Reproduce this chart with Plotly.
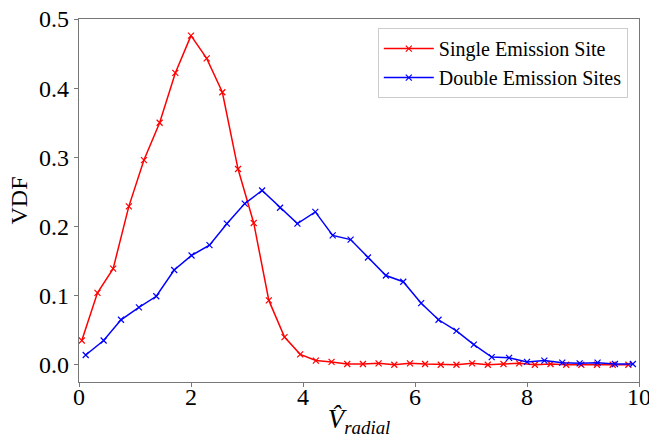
import plotly.graph_objects as go

# ---- data ----
single_x = [0.05, 0.33, 0.61, 0.89, 1.16, 1.44, 1.72, 2.00, 2.28, 2.56,
            2.84, 3.12, 3.39, 3.67, 3.95, 4.23, 4.51, 4.79, 5.07, 5.35,
            5.63, 5.91, 6.18, 6.46, 6.74, 7.02, 7.30, 7.58, 7.86, 8.14,
            8.42, 8.70, 8.97, 9.25, 9.53, 9.81]
single_y = [0.035, 0.104, 0.139, 0.229, 0.296, 0.350, 0.422, 0.476, 0.443, 0.394,
            0.283, 0.205, 0.093, 0.040, 0.015, 0.006, 0.004, 0.001, 0.001, 0.002,
            0.000, 0.002, 0.001, 0.000, 0.000, 0.002, 0.000, 0.001, 0.002, 0.000,
            0.001, 0.000, 0.000, 0.000, 0.000, 0.000]

double_x = [0.12, 0.44, 0.75, 1.07, 1.38, 1.70, 2.01, 2.33, 2.64, 2.96,
            3.27, 3.59, 3.90, 4.22, 4.53, 4.85, 5.16, 5.48, 5.79, 6.11,
            6.42, 6.74, 7.05, 7.37, 7.68, 8.00, 8.31, 8.63, 8.94, 9.26,
            9.57, 9.89]
double_y = [0.014, 0.035, 0.065, 0.083, 0.099, 0.137, 0.158, 0.173, 0.204, 0.233,
            0.252, 0.227, 0.204, 0.221, 0.187, 0.181, 0.155, 0.129, 0.120, 0.089,
            0.065, 0.049, 0.029, 0.011, 0.010, 0.004, 0.006, 0.003, 0.002, 0.003,
            0.001, 0.001]

x_ticks = [0, 2, 4, 6, 8, 10]
y_ticks = [0.0, 0.1, 0.2, 0.3, 0.4, 0.5]

FONT = "Liberation Serif"

fig = go.Figure()
fig.add_trace(go.Scatter(
    x=single_x, y=single_y, mode="lines+markers", name="Single Emission Site",
    line=dict(color="#ff0000", width=1.5),
    marker=dict(symbol="x-thin", size=6, line=dict(color="#ff0000", width=1.2)),
))
fig.add_trace(go.Scatter(
    x=double_x, y=double_y, mode="lines+markers", name="Double Emission Sites",
    line=dict(color="#0000ff", width=1.5),
    marker=dict(symbol="x-thin", size=6, line=dict(color="#0000ff", width=1.2)),
))

axis_common = dict(
    showgrid=False, zeroline=False, showline=True, mirror=True, automargin=False,
    linecolor="#777777", linewidth=1.2, ticks="outside", ticklen=4,
    tickcolor="#777777", tickfont=dict(family=FONT, size=24, color="black"),
    ticklabeloverflow="allow",
)

fig.update_layout(
    width=649, height=441,
    margin=dict(l=79, r=10, t=19, b=59),
    paper_bgcolor="white", plot_bgcolor="white",
    font=dict(family=FONT, color="black"),
    xaxis=dict(range=[0, 10], tickvals=x_ticks, ticktext=[str(v) for v in x_ticks],
               ticklabelstandoff=-11,
               title=dict(text="<i>V̂</i><sub><i>radial</i></sub>",
                          font=dict(family=FONT, size=27), standoff=0),
               **axis_common),
    yaxis=dict(range=[-0.025, 0.5], tickvals=y_ticks,
               ticktext=[f"{v:.1f}" for v in y_ticks],
               title=dict(text="VDF", font=dict(family=FONT, size=24), standoff=4),
               **axis_common),
    legend=dict(x=0.98, y=0.975, xanchor="right", yanchor="top",
                bgcolor="white", bordercolor="#cccccc", borderwidth=1,
                itemwidth=50,
                font=dict(family=FONT, size=20), tracegroupgap=0),
    showlegend=True,
)

fig.write_html("out.html", config={"displayModeBar": False},
               post_script="document.body.style.margin='0';document.body.style.overflow='hidden';")
